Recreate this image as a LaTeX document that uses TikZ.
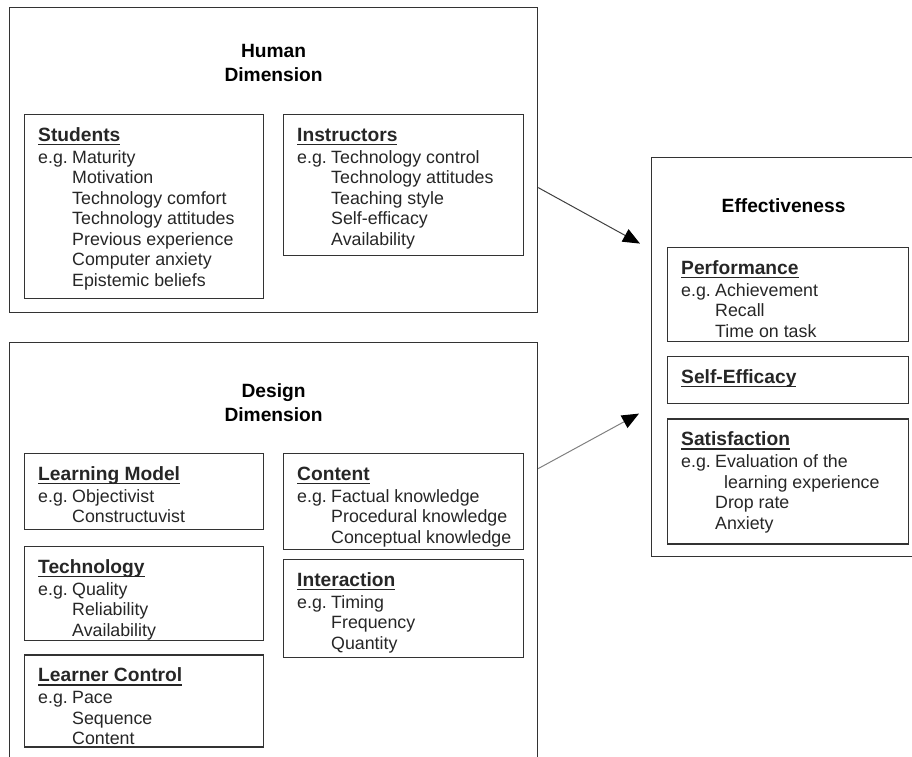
\documentclass[tikz,border=0pt]{standalone}
\usepackage{fontspec}
\setmainfont{Liberation Sans}
\usepackage{tikz}
\usetikzlibrary{
	positioning,
	arrows.meta
}
\newcommand{\headfont}{\fontsize{19.2}{24}\selectfont\bfseries}
\newcommand{\ulhead}[1]{\setbox0=\hbox{\headfont #1}\rule{0pt}{15pt}\rlap{\rule[-4pt]{\wd0}{1.2pt}}\box0}
\newcommand{\egpre}{\makebox[34pt][l]{e.g.}}
\newcommand{\itemind}{\hspace*{34pt}}
\tikzset{
	node distance=15pt,
	dimbox/.style={
		draw=black!80,line width=1.2pt,inner sep=0pt,
		minimum width=528pt,anchor=north west
	},
	catbox/.style={
		draw=black!80,line width=1.2pt,inner sep=0pt,
		minimum width=240pt,anchor=north west
	},
	dimtitle/.style={
		font=\headfont,align=center,inner sep=0pt,anchor=north
	},
	itemtext/.style={
		font=\fontsize{17.8}{20.5}\selectfont,text=black!85,
		align=left,inner sep=0pt,anchor=north west
	},
	flow/.style={
		line width=1pt,-{Triangle[length=17pt,width=14pt,color=black]}
	}
}

\begin{document}
\begin{tikzpicture}[x=1pt,y=1pt]
	\useasboundingbox (0,0) rectangle (912,-756);

	% outer boxes
	\node[dimbox,minimum height=305pt]                       (human)  at (9,-7)    {};
	\node[dimbox,minimum height=440pt]                       (design) at (9,-342)  {};
	\node[dimbox,minimum width=264pt,minimum height=399pt]   (effect) at (651,-157) {};

	\node[dimtitle] (human-t)  at ([yshift=-35pt]human.north)  {\rule{0pt}{15pt}Human\\Dimension};
	\node[dimtitle] (design-t) at ([yshift=-40pt]design.north) {\rule{0pt}{15pt}Design\\Dimension};
	\node[dimtitle] (effect-t) at ([yshift=-40pt]effect.north) {\rule{0pt}{15pt}Effectiveness};

	% human dimension
	\node[catbox,minimum width=239pt,minimum height=184pt] (students)    at (24,-114)  {};
	\node[catbox,minimum height=141pt]                     (instructors) at (283,-114) {};

	% design dimension
	\node[catbox,minimum width=239pt,minimum height=76pt]  (lmodel)   at (24,-453)  {};
	\node[catbox,minimum width=239pt,minimum height=94pt,below=16pt of lmodel] (techn)    {};
	\node[catbox,minimum width=239pt,minimum height=92pt,below=13pt of techn]  (lcontrol) {};
	\node[catbox,minimum height=96pt]                      (content)  at (283,-453) {};
	\node[catbox,minimum height=98pt,below=9pt of content]                     (interact) {};

	% effectiveness
	\node[catbox,minimum width=241pt,minimum height=94pt]  (perf)    at (667,-247) {};
	\node[catbox,minimum width=241pt,minimum height=47pt,below=14pt of perf]    (selfeff) {};
	\node[catbox,minimum width=241pt,minimum height=125pt,below=14pt of selfeff] (satisf) {};

	% box texts
	\node[itemtext] (students-t) at ([shift={(14pt,-12pt)}]students.north west) {
		\ulhead{Students}\\[1.5pt]
		\egpre Maturity\\
		\itemind Motivation\\
		\itemind Technology comfort\\
		\itemind Technology attitudes\\
		\itemind Previous experience\\
		\itemind Computer anxiety\\
		\itemind Epistemic beliefs};
	\node[itemtext] (instructors-t) at ([shift={(14pt,-12pt)}]instructors.north west) {
		\ulhead{Instructors}\\[1.5pt]
		\egpre Technology control\\
		\itemind Technology attitudes\\
		\itemind Teaching style\\
		\itemind Self-efficacy\\
		\itemind Availability};
	\node[itemtext] (lmodel-t) at ([shift={(14pt,-12pt)}]lmodel.north west) {
		\ulhead{Learning Model}\\[1.5pt]
		\egpre Objectivist\\
		\itemind Constructuvist};
	\node[itemtext] (techn-t) at ([shift={(14pt,-12pt)}]techn.north west) {
		\ulhead{Technology}\\[1.5pt]
		\egpre Quality\\
		\itemind Reliability\\
		\itemind Availability};
	\node[itemtext] (lcontrol-t) at ([shift={(14pt,-12pt)}]lcontrol.north west) {
		\ulhead{Learner Control}\\[1.5pt]
		\egpre Pace\\
		\itemind Sequence\\
		\itemind Content};
	\node[itemtext] (content-t) at ([shift={(14pt,-12pt)}]content.north west) {
		\ulhead{Content}\\[1.5pt]
		\egpre Factual knowledge\\
		\itemind Procedural knowledge\\
		\itemind Conceptual knowledge};
	\node[itemtext] (interact-t) at ([shift={(14pt,-12pt)}]interact.north west) {
		\ulhead{Interaction}\\[1.5pt]
		\egpre Timing\\
		\itemind Frequency\\
		\itemind Quantity};
	\node[itemtext] (perf-t) at ([shift={(14pt,-12pt)}]perf.north west) {
		\ulhead{Performance}\\[1.5pt]
		\egpre Achievement\\
		\itemind Recall\\
		\itemind Time on task};
	\node[itemtext] (selfeff-t) at ([shift={(14pt,-12pt)}]selfeff.north west) {
		\ulhead{Self-Efficacy}};
	\node[itemtext] (satisf-t) at ([shift={(14pt,-12pt)}]satisf.north west) {
		\ulhead{Satisfaction}\\[1.5pt]
		\egpre Evaluation of the\\
		\hspace*{43pt}learning experience\\
		\itemind Drop rate\\
		\itemind Anxiety};

	% connectors
	\draw[flow,draw=black!75] ([yshift=-27.5pt]human.east)
		-- ([xshift=-11pt,yshift=113.5pt]effect.west);
	\draw[flow,draw=black!50] ([yshift=94pt]design.east)
		-- ([xshift=-12pt,yshift=-56.5pt]effect.west);
\end{tikzpicture}
\end{document}
